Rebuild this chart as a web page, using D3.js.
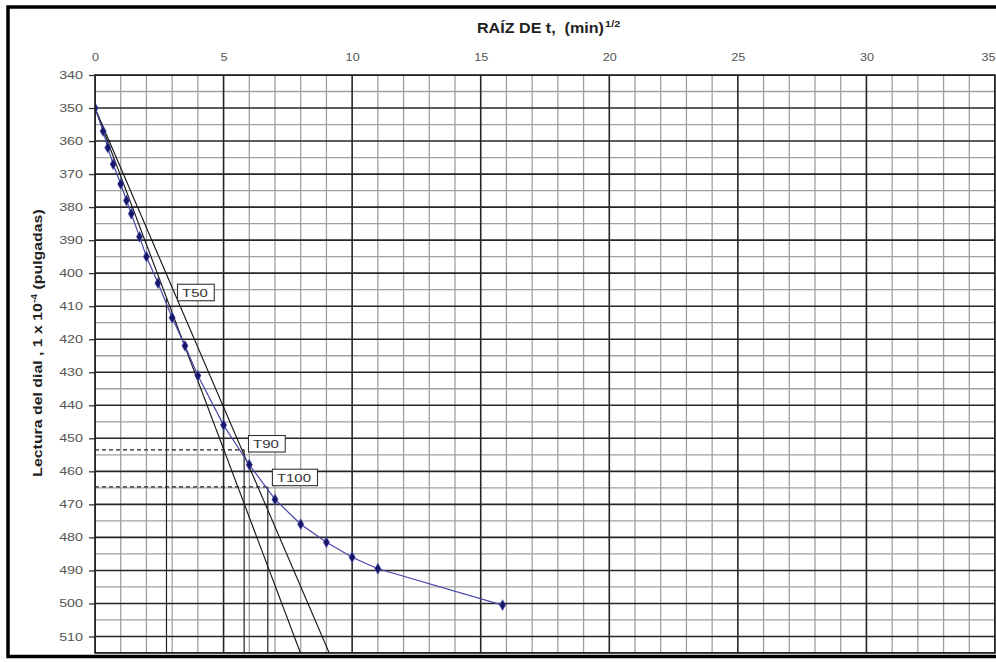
<!DOCTYPE html>
<html>
<head>
<meta charset="utf-8">
<script src="https://cdn.jsdelivr.net/npm/d3@7"></script>
<style>
  html, body { margin: 0; padding: 0; background: #ffffff; }
  svg { display: block; }
</style>
</head>
<body>
<svg id="chart" width="996" height="662"></svg>
<script>
// ---- data ----
const sqrtTime    = [0, 0.316, 0.5, 0.707, 1, 1.225, 1.414, 1.732, 2, 2.449, 3, 3.5, 4, 5, 6, 7, 8, 9, 10, 11, 15.85];
const dialReading = [350, 357, 362, 367, 373, 378, 382, 389, 395, 403, 413.5, 422, 431, 446, 458, 468.5, 476, 481.5, 486, 489.5, 500.5];

const xTickValues = [0, 5, 10, 15, 20, 25, 30, 35];
const yTickValues = [340, 350, 360, 370, 380, 390, 400, 410, 420, 430, 440, 450, 460, 470, 480, 490, 500, 510];

// straight construction lines (start / end in data units)
const tangentLineX   = [0, 7.99];
const tangentLineY   = [350, 515];
const correctedLineX = [0, 9.11];
const correctedLineY = [350, 515];

// time markers
const markerNames   = ["T50", "T90", "T100"];
const markerX       = [2.78, 5.8, 6.72];
const markerY       = [407.5, 453.5, 464.7];
const markerDashed  = [false, true, true];
const markerLabelX  = [3.19, 5.95, 6.88];
const markerLabelY  = [403.2, 449.0, 459.2];

const xTitle = "RAÍZ DE t,  (min)";
const xTitleSup = "1/2";
const yTitleA = "Lectura del dial , 1 x 10";
const yTitleSup = "-4";
const yTitleB = " (pulgadas)";

// ---- drawing ----
const svg = d3.select("#chart");
const FONT = "'Liberation Sans', Arial, sans-serif";

const x = d3.scaleLinear().domain([0, 35]).range([95, 995]);
const y = d3.scaleLinear().domain([340, 515]).range([75, 653]);

svg.append("rect").attr("width", 996).attr("height", 662).attr("fill", "#fff");

// outer frame
svg.append("rect")
  .attr("x", 8).attr("y", 7)
  .attr("width", 1000).attr("height", 649.5)
  .attr("fill", "none").attr("stroke", "#000").attr("stroke-width", 3.5);

svg.append("defs").append("clipPath").attr("id", "plotclip")
  .append("rect").attr("x", x(0)).attr("y", y(340))
  .attr("width", x(35) - x(0)).attr("height", y(515) - y(340));

const plot = svg.append("g").attr("clip-path", "url(#plotclip)");

// minor grid
plot.append("g").selectAll("line").data(d3.range(0, 36, 1).filter(v => v % 5 !== 0))
  .join("line")
  .attr("x1", d => x(d)).attr("x2", d => x(d))
  .attr("y1", y(340)).attr("y2", y(515))
  .attr("stroke", "#a0a0a0").attr("stroke-width", 1.3);
plot.append("g").selectAll("line").data(d3.range(345, 515, 10))
  .join("line")
  .attr("x1", x(0)).attr("x2", x(35))
  .attr("y1", d => y(d)).attr("y2", d => y(d))
  .attr("stroke", "#a0a0a0").attr("stroke-width", 1.3);

// major grid
plot.append("g").selectAll("line").data(xTickValues)
  .join("line")
  .attr("x1", d => x(d)).attr("x2", d => x(d))
  .attr("y1", y(340)).attr("y2", y(515))
  .attr("stroke", "#262626").attr("stroke-width", 1.6);
plot.append("g").selectAll("line").data(yTickValues.concat([515]))
  .join("line")
  .attr("x1", x(0)).attr("x2", x(35))
  .attr("y1", d => y(d)).attr("y2", d => y(d))
  .attr("stroke", "#262626").attr("stroke-width", 1.6);

// plot border
svg.append("rect")
  .attr("x", x(0)).attr("y", y(340))
  .attr("width", x(35) - x(0)).attr("height", y(515) - y(340))
  .attr("fill", "none").attr("stroke", "#1a1a1a").attr("stroke-width", 1.6);

// construction lines
const straight = d3.line().x(d => x(d[0])).y(d => y(d[1]));
plot.append("path")
  .attr("d", straight(d3.zip(tangentLineX, tangentLineY)))
  .attr("fill", "none").attr("stroke", "#111").attr("stroke-width", 1.1);
plot.append("path")
  .attr("d", straight(d3.zip(correctedLineX, correctedLineY)))
  .attr("fill", "none").attr("stroke", "#111").attr("stroke-width", 1.1);

// marker verticals and dashed horizontals
markerNames.forEach((name, i) => {
  plot.append("line")
    .attr("x1", x(markerX[i])).attr("x2", x(markerX[i]))
    .attr("y1", y(markerY[i])).attr("y2", y(515))
    .attr("stroke", "#222").attr("stroke-width", 1.2);
  if (markerDashed[i]) {
    plot.append("line")
      .attr("x1", x(0)).attr("x2", x(markerX[i]))
      .attr("y1", y(markerY[i])).attr("y2", y(markerY[i]))
      .attr("stroke", "#222").attr("stroke-width", 1.2)
      .attr("stroke-dasharray", "4,3");
  }
});

// data series
const pts = d3.zip(sqrtTime, dialReading);
plot.append("path")
  .attr("d", straight(pts))
  .attr("fill", "none").attr("stroke", "#4646a8").attr("stroke-width", 1.2);
plot.append("g").selectAll("path").data(pts)
  .join("path")
  .attr("transform", d => `translate(${x(d[0])},${y(d[1])})`)
  .attr("d", d3.symbol(d3.symbolDiamond, 34))
  .attr("fill", "#16166a").attr("stroke", "#5a5ab8").attr("stroke-width", 0.6);

// marker label boxes
markerNames.forEach((name, i) => {
  const g = svg.append("g")
    .attr("transform", `translate(${x(markerLabelX[i])},${y(markerLabelY[i])})`);
  const t = g.append("text")
    .attr("font-family", FONT).attr("font-size", 11.5)
    .attr("fill", "#333")
    .attr("x", 0).attr("y", 0)
    .text(name)
    .attr("transform", "translate(5,13) scale(1.3,1)");
  const w = t.node().getComputedTextLength() * 1.3 + 11;
  g.insert("rect", "text")
    .attr("x", 0.5).attr("y", 0.5)
    .attr("width", w).attr("height", 16.5)
    .attr("fill", "#fff").attr("stroke", "#333").attr("stroke-width", 1.1);
});

// top axis labels
const topAxis = svg.append("g")
  .attr("transform", `translate(0,${y(340)})`)
  .call(d3.axisTop(x).tickValues(xTickValues).tickSize(0).tickPadding(14).tickFormat(d3.format("d")));
topAxis.select(".domain").remove();
topAxis.selectAll("text")
  .attr("font-family", FONT).attr("font-size", 11).attr("fill", "#555")
  .attr("transform", "scale(1.15,1)")
  .filter(d => d === xTickValues[xTickValues.length - 1])
  .attr("text-anchor", "end").attr("x", 0);

// left axis
const leftAxis = svg.append("g")
  .attr("transform", `translate(${x(0)},0)`)
  .call(d3.axisLeft(y).tickValues(yTickValues).tickSize(6).tickPadding(6).tickFormat(d3.format("d")));
leftAxis.select(".domain").remove();
leftAxis.selectAll(".tick line").attr("stroke", "#333").attr("stroke-width", 1.3);
leftAxis.selectAll("text")
  .attr("font-family", FONT).attr("font-size", 11).attr("fill", "#555")
  .attr("x", -12 / 1.3)
  .attr("transform", "scale(1.3,1)");

// x title
const xt = svg.append("g").attr("transform", "translate(477,33) scale(1.15,1)");
const xtText = xt.append("text")
  .attr("font-family", FONT).attr("font-size", 14).attr("font-weight", "bold")
  .attr("fill", "#222").attr("xml:space", "preserve").style("white-space", "pre")
  .text(xTitle);
const xtw = xtText.node().getComputedTextLength();
xt.append("text")
  .attr("x", xtw + 1).attr("y", -6)
  .attr("font-family", FONT).attr("font-size", 9.5).attr("font-weight", "bold")
  .attr("fill", "#222").text(xTitleSup);

// y title
const yt = svg.append("g").attr("transform", "translate(42,343) rotate(-90) scale(1.22,1)");
const ytText = yt.append("text")
  .attr("font-family", FONT).attr("font-size", 13).attr("font-weight", "bold")
  .attr("fill", "#222").attr("text-anchor", "middle");
ytText.append("tspan").text(yTitleA);
ytText.append("tspan").attr("dy", -5).attr("font-size", 8.5).text(yTitleSup);
ytText.append("tspan").attr("dy", 5).text(yTitleB);
</script>
</body>
</html>
